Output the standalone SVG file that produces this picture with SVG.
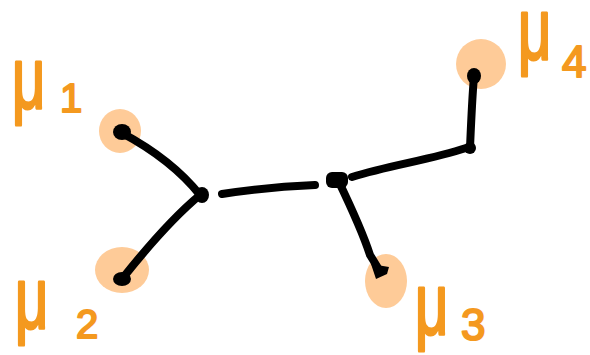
<svg xmlns="http://www.w3.org/2000/svg" width="590" height="355" viewBox="0 0 590 355">
<style>
.blob{fill:#FECB98}
.dot{fill:#000}
.edge{fill:none;stroke:#000;stroke-width:8;stroke-linecap:round;stroke-linejoin:round}
.mu{fill:#F4991F;stroke:#F4991F;stroke-width:2;stroke-linejoin:round;font-family:"Liberation Sans",sans-serif;font-size:58px}
.sub{fill:#F4991F;stroke:#F4991F;stroke-width:2;stroke-linejoin:round;font-family:"Liberation Sans",sans-serif;font-size:40px}
</style>
<rect width="590" height="355" fill="#fff"/>
<g id="mu1">
<ellipse class="blob" cx="120" cy="131" rx="21" ry="22"/>
<ellipse class="dot" cx="122" cy="132" rx="9" ry="8"/>
<text class="mu" transform="translate(12,108) scale(1,1.5)">μ</text>
<text class="sub" x="60" y="112">1</text>
</g>
<g id="mu2">
<ellipse class="blob" cx="122" cy="270" rx="27" ry="23"/>
<ellipse class="dot" cx="122" cy="279" rx="9" ry="7"/>
<text class="mu" transform="translate(15,328) scale(1,1.5)">μ</text>
<text class="sub" x="76" y="338">2</text>
</g>
<g id="mu3">
<ellipse class="blob" cx="386" cy="281" rx="21" ry="27"/>
<path class="dot" d="M371,264 L389,267 L387,274 L376,279 Z"/>
<text class="mu" transform="translate(415,334) scale(1,1.5)">μ</text>
<text class="sub" x="461" y="340" style="font-size:44px">3</text>
</g>
<g id="mu4">
<ellipse class="blob" cx="481" cy="64" rx="25" ry="25"/>
<ellipse class="dot" cx="474" cy="76" rx="7" ry="8"/>
<text class="mu" transform="translate(518,59) scale(1,1.5)">μ</text>
<text class="sub" x="562" y="77" style="font-size:44px">4</text>
</g>
<g id="n1"><ellipse class="dot" cx="202" cy="195" rx="7" ry="8"/></g>
<g id="n2"><rect class="dot" x="326" y="172" width="22" height="16" rx="6"/></g>
<g id="n3"><ellipse class="dot" cx="470" cy="148" rx="6" ry="6"/></g>
<g id="connectors">
<path class="edge" d="M122,133 C150,148 180,170 200,195"/>
<path class="edge" d="M200,195 C170,220 145,250 122,279"/>
<path class="edge" d="M222,194 C260,188 290,186 315,185"/>
<path class="edge" d="M338,180 C350,205 362,230 370,255 L378,268"/>
<path class="edge" d="M352,177 C390,165 430,160 466,148"/>
<path class="edge" d="M470,148 C471,125 472,100 474,76"/>
</g>
</svg>
